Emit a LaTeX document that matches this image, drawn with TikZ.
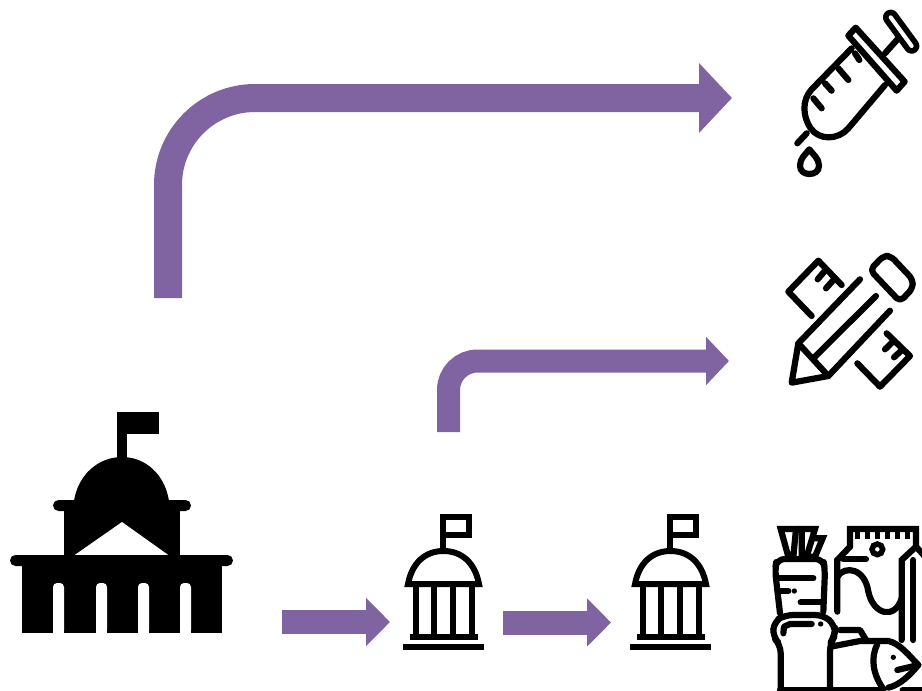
\documentclass[tikz,border=0pt]{standalone}
\usetikzlibrary{arrows.meta}
\definecolor{flowpurple}{HTML}{8064A2}
\tikzset{
  bigflow/.style={draw=flowpurple,line width=28pt,rounded corners=87pt,-{Triangle[length=33pt,width=68pt]}},
  midflow/.style={draw=flowpurple,line width=23pt,rounded corners=29pt,-{Triangle[length=23pt,width=47pt]}},
  smallflow/.style={draw=flowpurple,line width=24pt,-{Triangle[length=24pt,width=47pt]}},
  iconline/.style={draw=black,line width=6.2pt,line cap=round,line join=round},
  smallbank/.pic={
    \draw[draw=black,line width=6pt] (442.5,548) -- (442.5,517) -- (469,517) -- (469,535) -- (442.5,535);
    \draw[draw=black,line width=6pt] (408,584) .. controls (412,563) and (425,551) .. (443.5,551) .. controls (462,551) and (475,563) .. (479,584) -- cycle;
    \foreach \cx in {416,434,453,472}{\draw[draw=black,line width=6pt] (\cx,585) -- (\cx,636);}
    \fill[black] (410,634) rectangle (478,640);
    \fill[black] (403,644) rectangle (484,650);
  }
}
\begin{document}
\begin{tikzpicture}[x=1pt,y=-1pt]
\useasboundingbox (0,0) rectangle (922,691);
\fill[white] (0,0) rectangle (922,691);
% connector ends
\coordinate (bigstart) at (168,298);
\coordinate (bigend) at (732,98);
\coordinate (midstart) at (448.5,432);
\coordinate (midend) at (729,361);
\coordinate (lowastart) at (282,622);
\coordinate (lowaend) at (390,622);
\coordinate (lowbstart) at (503,622.5);
\coordinate (lowbend) at (611,622.5);
\draw[bigflow] (bigstart) |- (bigend);
\draw[midflow] (midstart) |- (midend);
\draw[smallflow] (lowastart) -- (lowaend);
\draw[smallflow] (lowbstart) -- (lowbend);
% government building
\fill[black] (117,458) rectangle (127,412);
\fill[black] (117,412) rectangle (159,434);
\fill[black] (74,501) .. controls (78,475) and (98,457) .. (122,457) .. controls (146,457) and (165,475) .. (169,501) -- cycle;
\fill[black,rounded corners=5.5pt] (53,500) rectangle (191,511);
\fill[black] (64,508) rectangle (180,558);
\fill[white] (74,555.5) -- (122,522) -- (169,555.5) -- cycle;
\fill[black,rounded corners=5.5pt] (10,555) rectangle (233,566);
\fill[black] (22,564) rectangle (222,633);
\foreach \sx in {53,96,138,180}{
  \fill[white,rounded corners=4pt] (\sx,634) -- (\sx,583) -- (\sx+11,583) -- (\sx+11,634) -- cycle;
  \fill[white] (\sx,625) rectangle (\sx+11,634);
}
% small buildings
\pic at (0,0) {smallbank};
\pic at (227,0) {smallbank};
% syringe
\begin{scope}[shift={(770,0)},scale=1/3]
\draw[black,line width=15.5pt,line cap=round] (362,52) -- (425,138);
\draw[white,line width=4pt,line cap=round] (362,52) -- (425,138);
\draw[iconline] (385,115) -- (345,160);
\draw[iconline] (257,83) -- (235,107) -- (380,272) -- (404,245) -- cycle;
\draw[iconline] (245,145) -- (125,268) .. controls (95,300) and (98,350) .. (122,385) .. controls (148,422) and (205,420) .. (235,385) -- (345,255);
\draw[iconline] (255,160) -- (268,180);
\draw[iconline] (205,205) -- (235,240);
\draw[iconline] (165,250) -- (185,272);
\draw[iconline] (130,295) -- (155,325);
\draw[iconline] (110,400) -- (82,430);
\draw[iconline] (118,448) .. controls (105,465) and (90,475) .. (90,497) .. controls (90,515) and (105,522) .. (118,522) .. controls (132,522) and (147,515) .. (147,497) .. controls (147,475) and (130,465) .. (118,448) -- cycle;
\end{scope}
% pencil and rulers
\begin{scope}[shift={(770,240)},scale=1/3]
\draw[iconline] (125,228) -- (55,155) -- (145,62) -- (215,135);
\draw[iconline] (165,92) -- (143,118);
\draw[iconline] (192,118) -- (168,145);
\draw[iconline] (262,370) -- (330,440) -- (420,348) -- (350,280);
\draw[iconline] (372,302) -- (345,328);
\draw[iconline] (398,328) -- (372,352);
\draw[iconline,rounded corners=5pt] (300,90) -- (340,48) -- (362,48) -- (428,118) -- (428,145) -- (390,185) -- cycle;
\draw[iconline] (270,118) -- (85,310) -- (65,428) -- (175,408) -- (360,212);
\draw[iconline] (318,168) -- (135,350);
\draw[iconline] (85,310) -- (175,408);
\end{scope}
% food
\begin{scope}[shift={(760,515)},scale=1/3]
\draw[iconline,line join=miter] (62,42) -- (108,42) -- (100,125) -- (85,125) -- cycle;
\draw[iconline,line join=miter] (125,42) -- (165,42) -- (140,125) -- (125,125) -- cycle;
\draw[iconline,line join=miter] (165,70) -- (188,70) -- (165,125) -- (150,125);
\draw[iconline,rounded corners=8pt] (60,295) -- (45,165) -- (50,132) -- (190,132) -- (195,165) -- (190,290);
\draw[iconline] (55,190) -- (160,190);
\draw[iconline] (55,228) -- (85,228);
\fill[black] (103,228) circle (8);
\draw[iconline] (122,262) -- (190,262);
% carton
\draw[iconline,line join=miter] (232,290) -- (232,135) -- (270,95) -- (270,42) -- (468,42) -- (468,95) -- (425,135) -- (425,375);
\draw[iconline] (468,95) -- (500,130);
\draw[iconline] (460,135) -- (460,375);
\draw[draw=black,line width=8pt,dash pattern=on 5pt off 5pt] (285,60) -- (460,60);
\draw[iconline] (250,133) -- (318,133);
\draw[draw=black,line width=5.5pt] (352,103) circle (16);
\draw[iconline] (232,185) .. controls (255,150) and (315,160) .. (325,230) .. controls (340,300) and (405,315) .. (425,250);
\draw[iconline] (240,345) -- (300,345) -- (318,375);
% bread
\draw[iconline,rounded corners=8pt] (62,525) -- (62,390) -- (38,365) -- (42,320) -- (75,300) -- (190,300) -- (225,330) -- (225,362) -- (210,385) -- (210,525);
\draw[iconline] (70,355) -- (72,335) -- (90,327) -- (155,327);
\fill[black] (182,327) circle (8);
\draw[iconline] (60,525) -- (370,525);
% fish
\draw[iconline] (212,395) -- (300,378) -- (385,378) .. controls (420,385) and (450,425) .. (475,450) .. controls (450,480) and (420,510) .. (385,518);
\draw[iconline] (352,388) .. controls (330,430) and (340,480) .. (370,522);
\fill[black] (400,427) circle (8);
\draw[iconline] (412,465) -- (475,450);
\draw[iconline] (428,525) -- (486,525);
\end{scope}
\end{tikzpicture}
\end{document}
